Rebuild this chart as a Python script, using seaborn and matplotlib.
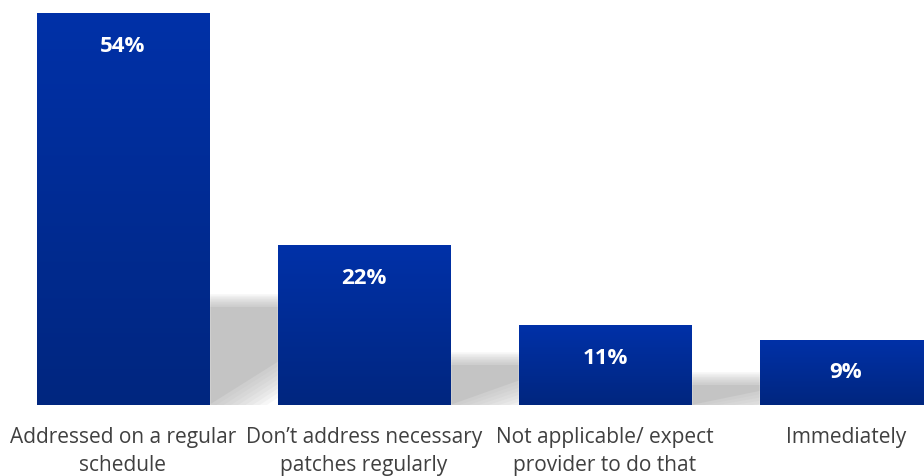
import seaborn as sns
import matplotlib.pyplot as plt
import numpy as np
import pandas as pd
from matplotlib.patches import Polygon

categories = ["Addressed on a regular\nschedule",
              "Don\u2019t address necessary\npatches regularly",
              "Not applicable/ expect\nprovider to do that",
              "Immediately"]
values = [54, 22, 11, 9]
labels = ["54%", "22%", "11%", "9%"]

df = pd.DataFrame({"category": categories, "value": values})

sns.set_style("white")
plt.rcParams['font.family'] = ['Open Sans', 'DejaVu Sans']

fig = plt.figure(figsize=(9.24, 4.77), dpi=100)
ax = fig.add_axes([0, 71 / 477, 1, 406 / 477])

sns.barplot(data=df, x="category", y="value", color="#002c9c",
            width=0.714, saturation=1, ax=ax, zorder=3)

ax.set_xlim(-0.510, 3.324)
ax.set_ylim(0, 55.9)

# vertical gradient in each bar + soft floor shadow behind it
grad = np.linspace(0, 1, 256).reshape(-1, 1)
cmap = sns.blend_palette(["#00267f", "#0031a8"], as_cmap=True)
px_y = 406 / 55.9
px_x = 241.0
for i, p in enumerate(ax.patches):
    x0, w, h = p.get_x(), p.get_width(), p.get_height()
    xr = x0 + w
    im = ax.imshow(grad, extent=[x0, xr, 0, h], origin="lower", cmap=cmap,
                   aspect="auto", zorder=3)
    im.set_clip_path(p)
    p.set_facecolor("none")
    # shadow shape derived from the bar height, blurred with stacked layers
    s = 0.25 * h
    L = (70 + 0.16 * h * px_y) / px_x
    n = 8
    for k in range(n, -1, -1):
        d = k * 1.6  # px of spread
        dx, dy = d / px_x, d / px_y
        poly = Polygon([(xr - 0.01, 0), (xr - 0.01, s + dy),
                        (xr + L + dx, s + dy),
                        (xr + L + dx, s - 2 * dy - 0.15 * s),
                        (xr + 3 * dx, -dy)],
                       closed=True, facecolor="#a8a8a8", edgecolor="none",
                       alpha=0.09 if k else 0.25, zorder=1)
        ax.add_patch(poly)
    ax.text(x0 + w / 2, h - 5.2, labels[i],
            ha="center", va="baseline", color="white", fontsize=16,
            fontweight="bold", zorder=5)

ax.set_ylim(0, 55.9)
ax.set_xlabel("")
ax.set_ylabel("")
ax.set_yticks([])
ax.tick_params(axis="x", length=0, pad=15, labelsize=15, labelcolor="#404040")
for t in ax.get_xticklabels():
    t.set_linespacing(1.47)
    t.set_va("top")
sns.despine(ax=ax, left=True, bottom=True)

fig.savefig("out.png", dpi=100)
